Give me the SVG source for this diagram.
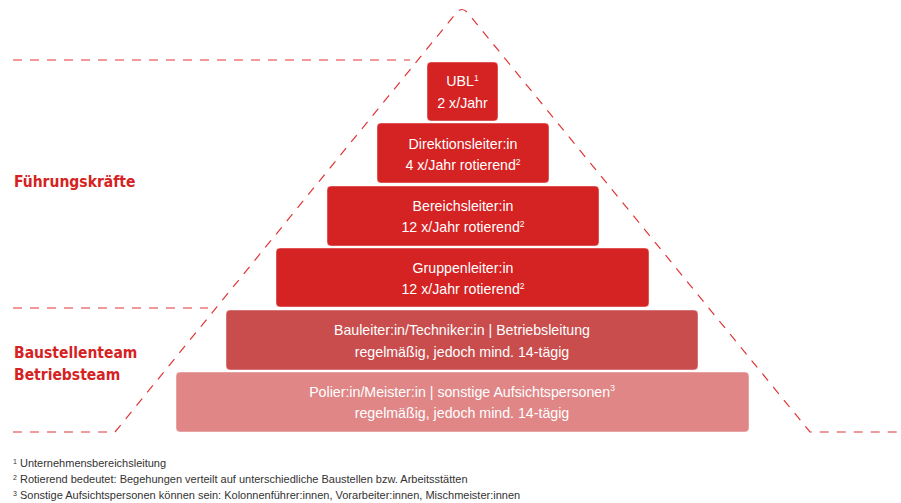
<svg xmlns="http://www.w3.org/2000/svg" width="901" height="503" viewBox="0 0 901 503">
<style>
.dash{fill:none;stroke:#e03535;stroke-width:1.2;stroke-dasharray:9 8}
.dash2{fill:none;stroke:#f07878;stroke-width:1.4;stroke-dasharray:9 8}
.box{stroke:#ffffff;stroke-opacity:0.45;stroke-width:1}
.r1{fill:#d52222}
.r2{fill:#c94d4d}
.r3{fill:#e08686}
.t{font-family:"Liberation Sans",Arial,sans-serif;font-size:14.2px;fill:#ffffff;text-anchor:middle}
.sup{font-size:8.5px}
.lbl{font-family:"DejaVu Sans Condensed","Liberation Sans",sans-serif;font-weight:bold;font-size:15.5px;fill:#d52222}
.fn{font-family:"Liberation Sans",Arial,sans-serif;font-size:11px;fill:#333333}
.fns{font-size:7px}
</style>
<g id="connectors">
<path class="dash2" d="M13 60 H410"/>
<path class="dash" d="M13 308 H208"/>
<path class="dash" d="M13 432 H115 L457 12 Q462 7 467 12 L810 432 H901"/>
</g>
<g id="ubl"><rect class="box r1" x="427" y="62" width="71" height="59" rx="4"/>
<text class="t" x="462.5" y="86">UBL<tspan class="sup" dy="-5.5">1</tspan></text>
<text class="t" x="462.5" y="107.5">2 x/Jahr</text></g>
<g id="direktionsleiter"><rect class="box r1" x="377" y="123" width="172" height="60" rx="4"/>
<text class="t" x="463" y="148.5">Direktionsleiter:in</text>
<text class="t" x="463" y="170">4 x/Jahr rotierend<tspan class="sup" dy="-5.5">2</tspan></text></g>
<g id="bereichsleiter"><rect class="box r1" x="327" y="186" width="272" height="60" rx="4"/>
<text class="t" x="463" y="210.5">Bereichsleiter:in</text>
<text class="t" x="463" y="232">12 x/Jahr rotierend<tspan class="sup" dy="-5.5">2</tspan></text></g>
<g id="gruppenleiter"><rect class="box r1" x="276" y="248" width="373" height="59" rx="4"/>
<text class="t" x="463" y="272.5">Gruppenleiter:in</text>
<text class="t" x="463" y="294">12 x/Jahr rotierend<tspan class="sup" dy="-5.5">2</tspan></text></g>
<g id="bauleiter"><rect class="box r2" x="226" y="310" width="472" height="60" rx="4"/>
<text class="t" x="462" y="334.5">Bauleiter:in/Techniker:in | Betriebsleitung</text>
<text class="t" x="462" y="356.5">regelmäßig, jedoch mind. 14-tägig</text></g>
<g id="polier"><rect class="box r3" x="176" y="372" width="573" height="60" rx="4"/>
<text class="t" x="462" y="396.5">Polier:in/Meister:in | sonstige Aufsichtspersonen<tspan class="sup" dy="-5.5">3</tspan></text>
<text class="t" x="462" y="418">regelmäßig, jedoch mind. 14-tägig</text></g>
<g id="labels">
<text class="lbl" x="14" y="187">Führungskräfte</text>
<text class="lbl" x="14" y="358">Baustellenteam</text>
<text class="lbl" x="14" y="380">Betriebsteam</text>
</g>
<g id="footnotes">
<text class="fn" x="13" y="467"><tspan class="fns" dy="-3">1</tspan><tspan dy="3"> Unternehmensbereichsleitung</tspan></text>
<text class="fn" x="13" y="483"><tspan class="fns" dy="-3">2</tspan><tspan dy="3"> Rotierend bedeutet: Begehungen verteilt auf unterschiedliche Baustellen bzw. Arbeitsstätten</tspan></text>
<text class="fn" x="13" y="499"><tspan class="fns" dy="-3">3</tspan><tspan dy="3"> Sonstige Aufsichtspersonen können sein: Kolonnenführer:innen, Vorarbeiter:innen, Mischmeister:innen</tspan></text>
</g>
</svg>
